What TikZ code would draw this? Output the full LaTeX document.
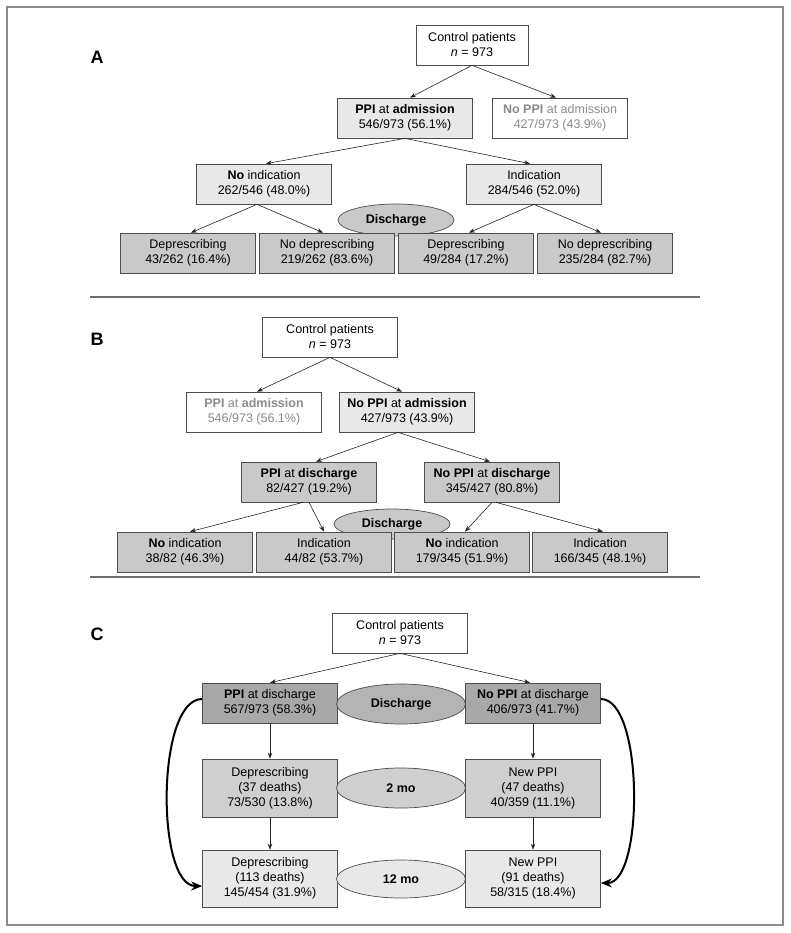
\documentclass[tikz,border=0pt]{standalone}
\usepackage{fontspec}
\setmainfont{Liberation Sans}
\usetikzlibrary{arrows.meta,shapes.geometric}
\definecolor{lightfill}{HTML}{E8E8E8}
\definecolor{midfill}{HTML}{C9C9C9}
\definecolor{cmidfill}{HTML}{CFCFCF}
\definecolor{darkfill}{HTML}{A8A8A8}
\definecolor{darkoval}{HTML}{B4B4B4}
\definecolor{greytext}{HTML}{8A8A8A}
\definecolor{edge}{HTML}{4D4D4D}
\definecolor{framecol}{HTML}{8C8C8C}
\definecolor{sepcol}{HTML}{6E6E6E}
\begin{document}
\begin{tikzpicture}[x=1pt,y=-1pt,
  box/.style={draw=edge, line width=0.7pt, minimum width=135pt, minimum height=40pt, inner sep=0pt, align=center, font=\fontsize{12.5}{15}\selectfont},
  tall/.style={box, minimum height=58pt},
  oval/.style={ellipse, draw=edge, line width=0.7pt, inner sep=0pt, font=\bfseries\fontsize{12.5}{15}\selectfont},
  arr/.style={draw=black!85, line width=0.6pt, -{Stealth[length=6pt,width=4.5pt]}},
  bigarr/.style={draw=black, line width=2pt, -{Stealth[length=11pt,width=9pt]}},
  panel/.style={font=\bfseries\fontsize{18}{20}\selectfont},
]
\useasboundingbox (0,0) rectangle (791,933);
\fill[white] (0,0) rectangle (791,933);
% frame and separators
\draw[draw=framecol, line width=1.4pt] (7,7) rectangle (783,925);
\draw[draw=sepcol, line width=1.1pt] (90,297) -- (700,297);
\draw[draw=sepcol, line width=1.1pt] (90,577) -- (700,577);

% ---------------- Panel A ----------------
\node[panel] (la) at (97,57) {A};
\node[box, minimum width=112pt] (a0) at (472,45) {Control patients\\\textit{n} = 973};
\node[box, fill=lightfill] (a1) at (405,118) {\textbf{PPI} at \textbf{admission}\\546/973 (56.1\%)};
\node[box, text=greytext] (a2) at (560,118) {\textbf{No PPI} at admission\\427/973 (43.9\%)};
\node[box, fill=lightfill] (a3) at (264,184) {\textbf{No} indication\\262/546 (48.0\%)};
\node[box, fill=lightfill] (a4) at (534,184) {Indication\\284/546 (52.0\%)};
\node[oval, fill=midfill, minimum width=116pt, minimum height=32pt] (aD) at (396,220) {Discharge};
\node[box, fill=midfill] (a5) at (188,253) {Deprescribing\\43/262 (16.4\%)};
\node[box, fill=midfill] (a6) at (327,253) {No deprescribing\\219/262 (83.6\%)};
\node[box, fill=midfill] (a7) at (466,253) {Deprescribing\\49/284 (17.2\%)};
\node[box, fill=midfill] (a8) at (605,253) {No deprescribing\\235/284 (82.7\%)};

\draw[arr] (a0.south) -- ([xshift=5pt]a1.north);
\draw[arr] (a0.south) -- ([xshift=-4pt]a2.north);
\draw[arr] (a1.south) -- ([xshift=2pt]a3.north);
\draw[arr] (a1.south) -- ([xshift=-4pt]a4.north);
\draw[arr] ([xshift=-7pt]a3.south) -- ([xshift=3pt]a5.north);
\draw[arr] ([xshift=-7pt]a3.south) -- ([xshift=-4pt]a6.north);
\draw[arr] (a4.south) -- ([xshift=3pt]a7.north);
\draw[arr] (a4.south) -- ([xshift=-4pt]a8.north);

% ---------------- Panel B ----------------
\node[panel] (lb) at (97,339) {B};
\node[box] (b0) at (330,337) {Control patients\\\textit{n} = 973};
\node[box, text=greytext] (b1) at (254,412) {\textbf{PPI} at \textbf{admission}\\546/973 (56.1\%)};
\node[box, fill=lightfill] (b2) at (407,412) {\textbf{No PPI} at \textbf{admission}\\427/973 (43.9\%)};
\node[box, fill=midfill] (b3) at (309,482) {\textbf{PPI} at \textbf{discharge}\\82/427 (19.2\%)};
\node[box, fill=midfill] (b4) at (492,482) {\textbf{No PPI} at \textbf{discharge}\\345/427 (80.8\%)};
\node[oval, fill=midfill, minimum width=116pt, minimum height=30pt] (bD) at (392,524) {Discharge};
\node[box, fill=midfill] (b5) at (185,552) {\textbf{No} indication\\38/82 (46.3\%)};
\node[box, fill=midfill] (b6) at (324,552) {Indication\\44/82 (53.7\%)};
\node[box, fill=midfill] (b7) at (462,552) {\textbf{No} indication\\179/345 (51.9\%)};
\node[box, fill=midfill] (b8) at (600,552) {Indication\\166/345 (48.1\%)};

\draw[arr] (b0.south) -- ([xshift=3pt]b1.north);
\draw[arr] (b0.south) -- ([xshift=-5pt]b2.north);
\draw[arr] ([xshift=-9pt]b2.south) -- ([xshift=7pt]b3.north);
\draw[arr] ([xshift=-9pt]b2.south) -- ([xshift=-2pt]b4.north);
\draw[arr] ([xshift=-6pt]b3.south) -- ([xshift=5pt]b5.north);
\draw[arr] (b3.south) -- (b6.north);
\draw[arr] (b4.south) -- ([xshift=3pt]b7.north);
\draw[arr] ([xshift=4pt]b4.south) -- ([xshift=3pt]b8.north);

% ---------------- Panel C ----------------
\node[panel] (lc) at (97,634) {C};
\node[box] (c0) at (400,633) {Control patients\\\textit{n} = 973};
\node[box, fill=darkfill] (c1) at (270,703) {\textbf{PPI} at discharge\\567/973 (58.3\%)};
\node[oval, fill=darkoval, minimum width=129pt, minimum height=40pt] (cD) at (401,704) {Discharge};
\node[box, fill=darkfill] (c2) at (533,703) {\textbf{No PPI} at discharge\\406/973 (41.7\%)};
\node[tall, fill=cmidfill] (c3) at (270,788) {Deprescribing\\(37 deaths)\\73/530 (13.8\%)};
\node[oval, fill=cmidfill, minimum width=129pt, minimum height=40pt] (cM) at (401,788) {2 mo};
\node[tall, fill=cmidfill] (c4) at (533,788) {New PPI\\(47 deaths)\\40/359 (11.1\%)};
\node[tall, fill=lightfill, minimum height=57pt] (c5) at (270,878.5) {Deprescribing\\(113 deaths)\\145/454 (31.9\%)};
\node[oval, fill=lightfill, minimum width=129pt, minimum height=38pt] (cY) at (401,879) {12 mo};
\node[tall, fill=lightfill, minimum height=57pt] (c6) at (533,878.5) {New PPI\\(91 deaths)\\58/315 (18.4\%)};

\draw[arr] (c0.south) -- (c1.north);
\draw[arr] (c0.south) -- ([xshift=-3pt]c2.north);
\draw[arr] (c1.south) -- (c3.north);
\draw[arr] (c3.south) -- (c5.north);
\draw[arr] (c2.south) -- (c4.north);
\draw[arr] (c4.south) -- (c6.north);
\draw[bigarr] ([yshift=4pt]c1.west) .. controls (156,699) and (156,886) .. ([yshift=-7.5pt]c5.west);
\draw[bigarr] ([yshift=4pt]c2.east) .. controls (644,699) and (644,883) .. ([yshift=-4.5pt]c6.east);
\end{tikzpicture}
\end{document}
